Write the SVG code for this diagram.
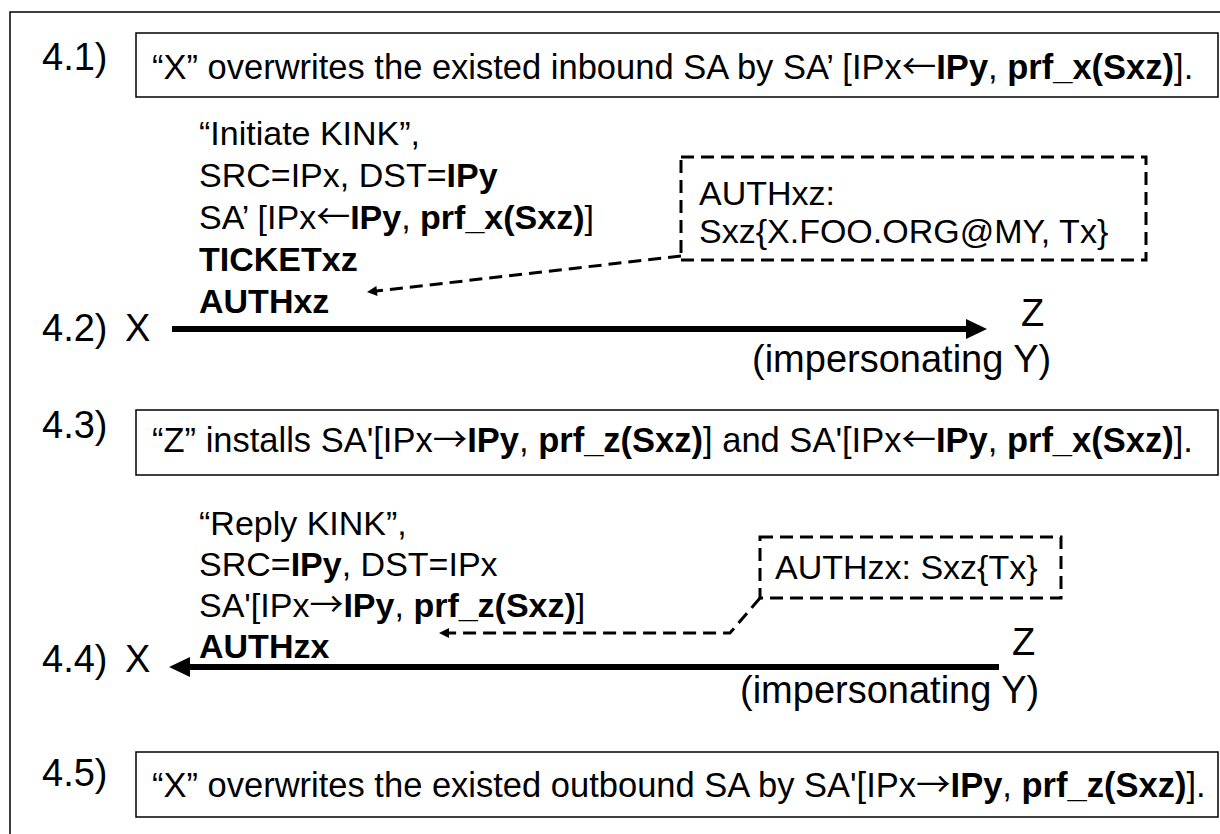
<svg xmlns="http://www.w3.org/2000/svg" width="1220" height="834" viewBox="0 0 1220 834">
<defs>
<style>
.t{font-family:"Liberation Sans",Arial,sans-serif;font-size:34px;fill:#000}
.bt{font-size:34.5px}
.l{font-family:"Liberation Sans",Arial,sans-serif;font-size:38px;fill:#000}
.b{font-weight:bold}
.ar{font-family:"Noto Sans CJK JP","DejaVu Sans",sans-serif;font-weight:normal}
.box{fill:#fff;stroke:#000;stroke-width:1.5}
.dbox{fill:none;stroke:#000;stroke-width:3;stroke-dasharray:13,7}
.dash{fill:none;stroke:#000;stroke-width:3;stroke-dasharray:13,7}
.msg{stroke:#000;stroke-width:6;fill:none}
</style>
<marker id="sa" viewBox="0 0 10 10" refX="9" refY="5" markerWidth="14" markerHeight="10" markerUnits="userSpaceOnUse" orient="auto">
<path d="M0,0 L10,5 L0,10 z" fill="#000"/>
</marker>
</defs>
<rect x="10" y="12" width="1220" height="830" fill="#fff" stroke="#000" stroke-width="1.5"/>

<g id="step41">
<text class="l" x="42" y="70">4.1)</text>
<rect class="box" x="136" y="33" width="1082" height="64"/>
<text class="t bt" x="152" y="79">“X” overwrites the existed inbound SA by SA’ [IPx<tspan class="ar">←</tspan><tspan class="b">IPy</tspan>, <tspan class="b">prf_x(Sxz)</tspan>].</text>
</g>

<g id="msg1label">
<text class="t" x="199" y="145">“Initiate KINK”,</text>
<text class="t" x="199" y="187">SRC=IPx, DST=<tspan class="b">IPy</tspan></text>
<text class="t" x="199" y="229">SA’ [IPx<tspan class="ar">←</tspan><tspan class="b">IPy</tspan>, <tspan class="b">prf_x(Sxz)</tspan>]</text>
<text class="t b" x="199" y="271">TICKETxz</text>
<text class="t b" x="199" y="313">AUTHxz</text>
</g>

<g id="authxz">
<rect class="dbox" x="681" y="157" width="465" height="103"/>
<text class="t" x="699" y="205">AUTHxz:</text>
<text class="t" x="699" y="243">Sxz{X.FOO.ORG@MY, Tx}</text>
</g>

<g id="step42">
<text class="l" x="42" y="341">4.2)</text>
<text class="l" x="125" y="341">X</text>
<text class="l" x="1021" y="326">Z</text>
<text class="l" x="752" y="372">(impersonating Y)</text>
</g>

<g id="step43">
<text class="l" x="42" y="438">4.3)</text>
<rect class="box" x="136" y="410" width="1082" height="65"/>
<text class="t bt" x="152" y="452">“Z” installs SA'[IPx<tspan class="ar">→</tspan><tspan class="b">IPy</tspan>, <tspan class="b">prf_z(Sxz)</tspan>] and SA'[IPx<tspan class="ar">←</tspan><tspan class="b">IPy</tspan>, <tspan class="b">prf_x(Sxz)</tspan>].</text>
</g>

<g id="msg2label">
<text class="t" x="199" y="535">“Reply KINK”,</text>
<text class="t" x="199" y="576">SRC=<tspan class="b">IPy</tspan>, DST=IPx</text>
<text class="t" x="199" y="617">SA'[IPx<tspan class="ar">→</tspan><tspan class="b">IPy</tspan>, <tspan class="b">prf_z(Sxz)</tspan>]</text>
<text class="t b" x="199" y="658">AUTHzx</text>
</g>

<g id="authzx">
<rect class="dbox" x="760" y="537" width="301" height="61"/>
<text class="t" x="775" y="579">AUTHzx: Sxz{Tx}</text>
</g>

<g id="step44">
<text class="l" x="42" y="672">4.4)</text>
<text class="l" x="125" y="672">X</text>
<text class="l" x="1012" y="655">Z</text>
<text class="l" x="740" y="703">(impersonating Y)</text>
</g>

<g id="step45">
<text class="l" x="42" y="786">4.5)</text>
<rect class="box" x="136" y="752" width="1082" height="65"/>
<text class="t bt" x="152" y="797">“X” overwrites the existed outbound SA by SA'[IPx<tspan class="ar">→</tspan><tspan class="b">IPy</tspan>, <tspan class="b">prf_z(Sxz)</tspan>].</text>
</g>

<g id="connectors">
<line class="msg" x1="172" y1="329" x2="968" y2="329"/>
<polygon points="966,319 987,329 966,339" fill="#000"/>
<line class="msg" x1="999" y1="667" x2="188" y2="667"/>
<polygon points="190,657 169,667 190,677" fill="#000"/>
<path class="dash" d="M681,256 L368,292" marker-end="url(#sa)"/>
<path class="dash" d="M760,598 L730,633 L440,633" marker-end="url(#sa)"/>
</g>
</svg>
